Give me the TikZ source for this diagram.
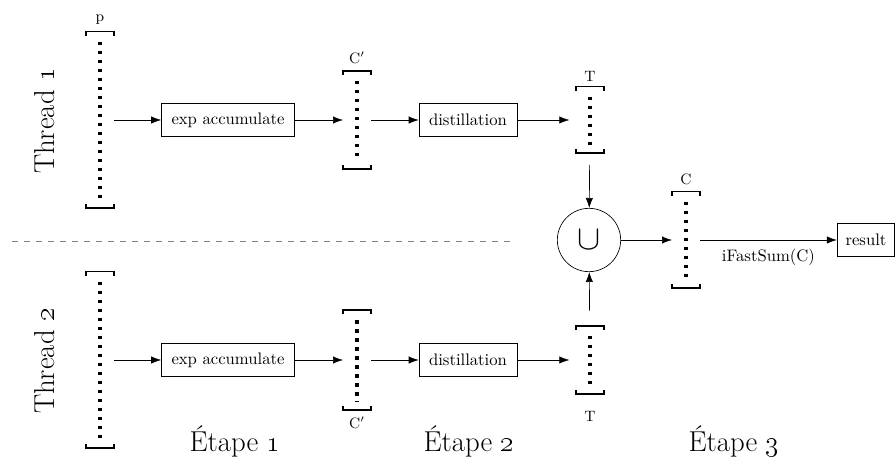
\documentclass[tikz,border=0pt]{standalone}
\usetikzlibrary{positioning}
\usetikzlibrary{arrows.meta}

\tikzset{
  tab/.style={minimum width=16.8pt, minimum height=#1, inner sep=0pt, outer sep=0pt},
  proc/.style={draw, thin, inner xsep=6pt, minimum height=20pt},
  lbl/.style={font=\small, inner sep=1pt},
  big/.style={font=\LARGE},
  bracket/.style={line width=1pt},
  dots/.style={line width=2.2pt, dash pattern=on 2.2pt off 3.2pt},
  arr/.style={-{Latex[length=6pt,width=4.4pt]}, thin}
}

\begin{document}
\begin{tikzpicture}[x=0.6pt, y=-0.6pt]
\useasboundingbox (0,0) rectangle (896,459);

% thread labels and separator
\node (th1) [big, rotate=90] at (45,121) {Thread \oldstylenums{1}};
\node (th2) [big, rotate=90] at (45,361) {Thread \oldstylenums{2}};
\draw[gray, dashed, dash pattern=on 3.6pt off 3.6pt] (12,241) -- (510,241);

% arrays
\node (p1) [tab=106pt] at (100,120) {};
\node (c1) [tab=59pt] at (357,120) {};
\node (t1) [tab=40pt] at (590,120) {};
\node (p2) [tab=106pt] at (100,360) {};
\node (c2) [tab=60pt] at (357,360) {};
\node (t2) [tab=41pt] at (590,360) {};
\node (cc) [tab=58pt] at (686,240) {};

\foreach \a in {p1,c1,t1,p2,c2,t2,cc} {
  \draw[bracket] ([yshift=-2.5pt]\a.north west) -- (\a.north west) -- (\a.north east) -- ([yshift=-2.5pt]\a.north east);
  \draw[bracket] ([yshift=2.5pt]\a.south west) -- (\a.south west) -- (\a.south east) -- ([yshift=2.5pt]\a.south east);
  \draw[dots] ([yshift=-6pt]\a.north) -- ([yshift=4.5pt]\a.south);
}

\node (lp)  [lbl, above=3pt of p1] {p};
\node (lc1) [lbl, above=3pt of c1] {C$'$};
\node (lt1) [lbl, above=2pt of t1] {T};
\node (lcc) [lbl, above=3pt of cc] {C};
\node (lc2) [lbl, below=3pt of c2] {C$'$};
\node (lt2) [lbl, below=9pt of t2] {T};

% processing steps
\node (e1) [proc] at (228,120) {exp accumulate};
\node (d1) [proc] at (468,120) {distillation};
\node (e2) [proc] at (228,360) {exp accumulate};
\node (d2) [proc] at (468,360) {distillation};
\node (un) [draw, thin, circle, minimum size=38pt, inner sep=0pt] at (589,240) {\huge$\cup$};
\node (res) [proc, inner xsep=5pt] at (866,240) {result};

\draw[arr] (p1) -- (e1);
\draw[arr] (e1) -- (c1);
\draw[arr] (c1) -- (d1);
\draw[arr, shorten >=4pt] (d1) -- (t1);
\draw[arr] (p2) -- (e2);
\draw[arr] (e2) -- (c2);
\draw[arr] (c2) -- (d2);
\draw[arr, shorten >=4pt] (d2) -- (t2);
\draw[arr, shorten <=7pt] (t1) -- (un);
\draw[arr, shorten <=9pt] (t2) -- (un);
\draw[arr] (un) -- (cc);
\draw[arr] (cc) -- node[below=2pt] (fs) {iFastSum(C)} (res);

% stages
\node (s1) [big] at (235,441) {\'Etape \oldstylenums{1}};
\node (s2) [big] at (469,441) {\'Etape \oldstylenums{2}};
\node (s3) [big] at (734,441) {\'Etape \oldstylenums{3}};
\end{tikzpicture}
\end{document}
